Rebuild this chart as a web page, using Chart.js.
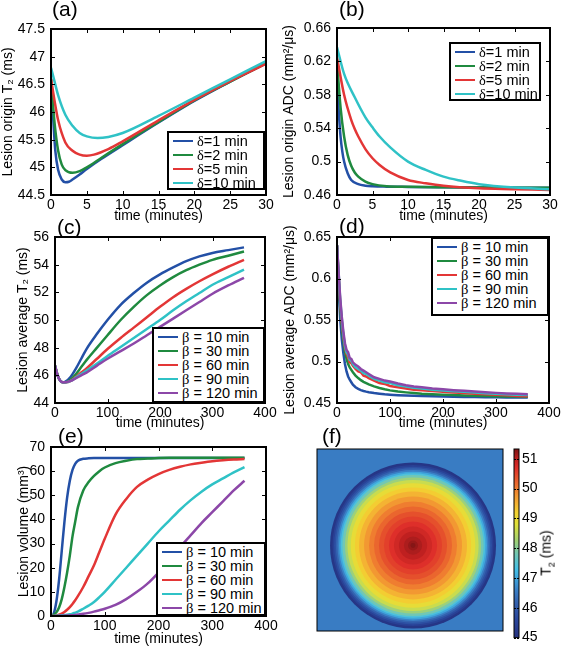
<!DOCTYPE html>
<html>
<head>
<meta charset="utf-8">
<title>Lesion T2 / ADC panels</title>
<script src="https://cdn.jsdelivr.net/npm/chart.js@4.4.1/dist/chart.umd.min.js"></script>
<style>
  body { margin: 0; background: #fff; }
  #page { position: relative; width: 564px; height: 649px; overflow: hidden; font-family: "Liberation Sans", Arial, sans-serif; color: #000; }
  #page canvas { position: absolute; left: 0; top: 0; }
  .tag { position: absolute; font-size: 21px; line-height: 21px; z-index: 3; }
  .legend { position: absolute; z-index: 3; background: #fff; border: 2px solid #000; box-sizing: border-box; font-size: 14.5px; padding: 1px 0 0 4px; }
  .legend .row { height: 14px; line-height: 14px; display: flex; align-items: center; white-space: nowrap; }
  .legend .swatch { display: inline-block; width: 20px; height: 0; border-top: 2.5px solid; margin-right: 4px; }
  .legend .txt { white-space: pre; }
  .sym { font-family: "Liberation Serif", "Times New Roman", serif; }
  .cbtitle { position: absolute; z-index: 3; font-size: 14px; transform: translate(-50%, -50%) rotate(-90deg); white-space: nowrap; }
</style>
</head>
<body>
<div id="page">
  <canvas id="chartA" width="564" height="649"></canvas>
  <canvas id="chartB" width="564" height="649"></canvas>
  <canvas id="chartC" width="564" height="649"></canvas>
  <canvas id="chartD" width="564" height="649"></canvas>
  <canvas id="chartE" width="564" height="649"></canvas>
  <canvas id="chartF" width="564" height="649"></canvas>
  <canvas id="chartCB" width="564" height="649"></canvas>
</div>
<script>
// ---- data ----

// (a) lesion origin T2 (ms) vs time (minutes), one series per delta
const deltaLabels = ['1', '2', '5', '10'];
const aTimeD1 = [0, 0.3, 0.6, 1, 1.5, 2, 2.5, 3, 4, 5, 7, 10, 15, 20, 25, 30];
const aT2D1 = [46.6, 45.9, 45.3, 44.95, 44.78, 44.73, 44.74, 44.78, 44.87, 44.97, 45.15, 45.4, 45.81, 46.2, 46.55, 46.88];
const aTimeD2 = [0, 0.5, 1, 1.5, 2, 3, 4, 5, 7, 10, 15, 20, 25, 30];
const aT2D2 = [46.6, 45.8, 45.3, 45.05, 44.95, 44.9, 44.93, 45.0, 45.17, 45.42, 45.82, 46.21, 46.55, 46.88];
const aTimeD5 = [0, 0.5, 1, 2, 3, 4, 5, 6, 8, 10, 15, 20, 25, 30];
const aT2D5 = [46.6, 46.2, 45.85, 45.45, 45.3, 45.23, 45.21, 45.23, 45.33, 45.47, 45.85, 46.22, 46.56, 46.87];
const aTimeD10 = [0, 0.5, 1, 2, 3, 4, 5, 6.5, 8, 10, 15, 20, 25, 30];
const aT2D10 = [46.8, 46.55, 46.3, 45.95, 45.75, 45.62, 45.56, 45.53, 45.55, 45.62, 45.93, 46.26, 46.59, 46.92];

// (b) lesion origin ADC (mm2/us)
const bTimeD1 = [0, 0.25, 0.5, 0.75, 1, 1.5, 2, 3, 4, 5, 7, 10, 15, 20, 30];
const bAdcD1 = [0.60, 0.56, 0.53, 0.512, 0.50, 0.486, 0.478, 0.473, 0.4712, 0.4705, 0.47, 0.4697, 0.4693, 0.469, 0.4686];
const bTimeD2 = [0, 0.5, 1, 1.5, 2, 2.5, 3, 4, 5, 7, 10, 15, 20, 30];
const bAdcD2 = [0.62, 0.565, 0.53, 0.508, 0.495, 0.487, 0.482, 0.476, 0.473, 0.4705, 0.4698, 0.4693, 0.469, 0.4686];
const bTimeD5 = [0, 1, 2, 2.5, 3, 4, 5, 6, 7.5, 10, 12.5, 15, 20, 25, 30];
const bAdcD5 = [0.625, 0.58, 0.55, 0.539, 0.53, 0.515, 0.504, 0.496, 0.487, 0.478, 0.474, 0.471, 0.468, 0.467, 0.466];
const bTimeD10 = [0, 1, 2.5, 4, 5, 6, 7.5, 10, 12.5, 15, 17.5, 20, 25, 30];
const bAdcD10 = [0.637, 0.605, 0.577, 0.553, 0.541, 0.53, 0.517, 0.50, 0.49, 0.482, 0.477, 0.473, 0.469, 0.467];

// (c) lesion average T2 (ms), one series per beta
const betaLabels = ['10', '30', '60', '90', '120'];
const cTime = [0, 5, 10, 15, 20, 30, 40, 50, 60, 80, 100, 125, 150, 175, 200, 225, 250, 275, 300, 330, 360];
const cT2B10 = [46.7, 46.0, 45.6, 45.5, 45.55, 45.9, 46.5, 47.2, 47.9, 49.0, 50.0, 51.1, 51.95, 52.7, 53.3, 53.8, 54.25, 54.6, 54.85, 55.05, 55.25];
const cT2B30 = [46.7, 46.0, 45.6, 45.5, 45.5, 45.7, 46.1, 46.6, 47.1, 48.0, 48.9, 50.0, 50.95, 51.8, 52.5, 53.1, 53.6, 54.0, 54.35, 54.65, 54.95];
const cT2B60 = [46.7, 46.0, 45.6, 45.5, 45.5, 45.6, 45.9, 46.2, 46.5, 47.2, 47.9, 48.7, 49.45, 50.2, 50.95, 51.65, 52.25, 52.8, 53.3, 53.85, 54.35];
const cT2B90 = [46.7, 46.0, 45.6, 45.5, 45.5, 45.6, 45.85, 46.1, 46.35, 46.85, 47.4, 48.05, 48.7, 49.35, 50.0, 50.7, 51.35, 51.95, 52.55, 53.1, 53.65];
const cT2B120 = [46.7, 46.0, 45.6, 45.5, 45.5, 45.6, 45.8, 46.0, 46.2, 46.7, 47.2, 47.75, 48.3, 48.9, 49.5, 50.1, 50.7, 51.3, 51.9, 52.5, 53.05];

// (d) lesion average ADC (mm2/us)
const dTime = [0, 3, 6, 9, 12, 15, 18, 21, 24, 27, 30, 35, 40, 45, 50, 55, 60, 70, 80, 90, 100, 115, 130, 145, 160, 180, 200, 220, 240, 260, 280, 300, 320, 340, 360];
const dAdcB10 = [0.640, 0.590, 0.552, 0.527, 0.510, 0.497, 0.488, 0.482, 0.478, 0.475, 0.472, 0.469, 0.467, 0.4655, 0.4645, 0.4637, 0.463, 0.462, 0.4612, 0.4605, 0.46, 0.4594, 0.459, 0.4586, 0.4583, 0.458, 0.4577, 0.4575, 0.4573, 0.4571, 0.457, 0.4568, 0.4567, 0.4566, 0.4565];
const dAdcB30 = [0.640, 0.600, 0.566, 0.542, 0.525, 0.512, 0.503, 0.497, 0.493, 0.490, 0.487, 0.483, 0.480, 0.4775, 0.4755, 0.474, 0.4725, 0.470, 0.468, 0.4665, 0.4652, 0.4638, 0.4628, 0.462, 0.4612, 0.4605, 0.46, 0.4595, 0.459, 0.4587, 0.4584, 0.4581, 0.4579, 0.4577, 0.4575];
const dAdcB60 = [0.640, 0.605, 0.572, 0.548, 0.530, 0.517, 0.509, 0.505, 0.499, 0.498, 0.495, 0.491, 0.488, 0.487, 0.483, 0.482, 0.480, 0.477, 0.474, 0.473, 0.4705, 0.469, 0.4675, 0.466, 0.4655, 0.4645, 0.4635, 0.4625, 0.462, 0.4612, 0.4605, 0.46, 0.4592, 0.4585, 0.458];
const dAdcB90 = [0.640, 0.607, 0.575, 0.552, 0.533, 0.519, 0.511, 0.508, 0.502, 0.501, 0.497, 0.493, 0.491, 0.489, 0.486, 0.485, 0.483, 0.479, 0.477, 0.475, 0.474, 0.4715, 0.4698, 0.4685, 0.4675, 0.466, 0.465, 0.4642, 0.4635, 0.4625, 0.4618, 0.461, 0.4605, 0.46, 0.4595];
const dAdcB120 = [0.640, 0.608, 0.577, 0.554, 0.536, 0.522, 0.514, 0.511, 0.504, 0.503, 0.499, 0.496, 0.494, 0.491, 0.489, 0.487, 0.485, 0.481, 0.479, 0.477, 0.476, 0.4735, 0.4715, 0.47, 0.469, 0.4675, 0.4665, 0.4655, 0.4647, 0.464, 0.463, 0.4622, 0.4615, 0.461, 0.4605];

// (e) lesion volume (mm3)
const eTime = [0, 5, 10, 15, 20, 25, 30, 35, 40, 45, 50, 60, 70, 80, 90, 100, 120, 140, 160, 180, 200, 220, 240, 260, 280, 300, 320, 340, 360];
const eVolB10 = [0, 1, 6, 15, 27, 39, 49, 56, 60.5, 63, 64.3, 65.1, 65.3, 65.4, 65.4, 65.4, 65.4, 65.4, 65.4, 65.4, 65.4, 65.4, 65.4, 65.4, 65.4, 65.4, 65.4, 65.4, 65.4];
const eVolB30 = [0, 0.5, 1.5, 3.5, 7, 12, 18, 25, 33, 39, 45, 52, 55.5, 58, 60, 61.5, 63.3, 64.3, 65, 65.2, 65.4, 65.5, 65.5, 65.5, 65.5, 65.5, 65.5, 65.5, 65.5];
const eVolB60 = [0, 0, 0.2, 0.5, 1, 1.7, 2.6, 3.7, 5, 6.5, 8.2, 12, 16.5, 21, 26.5, 32, 42, 48.5, 53.5, 56.5, 58.8, 60.5, 61.8, 62.8, 63.5, 64.1, 64.5, 64.8, 65];
const eVolB90 = [0, 0, 0.1, 0.2, 0.3, 0.4, 0.5, 0.7, 1, 1.4, 1.8, 3, 4.3, 5.8, 7.8, 10, 15, 20, 25, 30, 35, 39.5, 44, 48, 51.5, 54.5, 57, 59.5, 61.7];
const eVolB120 = [0, 0, 0, 0.1, 0.1, 0.15, 0.2, 0.25, 0.3, 0.45, 0.6, 0.9, 1.3, 1.8, 2.4, 3, 4.6, 7, 10, 13.5, 18, 23, 28.5, 33.5, 38.5, 43, 47.5, 52, 56];

// (f) radial T2 profile of the lesion map (radius normalised to lesion edge)
const ringRadius = [1.0, 0.97, 0.95, 0.93, 0.91, 0.89, 0.87, 0.85, 0.82, 0.79, 0.75, 0.70, 0.65, 0.59, 0.53, 0.47, 0.41, 0.35, 0.29, 0.23, 0.17, 0.11, 0.06, 0.03];
const ringT2 = [45.15, 45.45, 45.8, 46.2, 46.6, 47.0, 47.4, 47.8, 48.2, 48.6, 48.95, 49.25, 49.5, 49.75, 50.0, 50.2, 50.4, 50.55, 50.7, 50.85, 51.0, 51.1, 51.2, 51.3];
const tissueT2 = 46.55;

// tick labels
const minTicks30 = [0, 5, 10, 15, 20, 25, 30];
const minTicks400 = [0, 100, 200, 300, 400];
const aYTicks = [44.5, 45, 45.5, 46, 46.5, 47, 47.5];
const bYTicks = [0.46, 0.5, 0.54, 0.58, 0.62, 0.66];
const cYTicks = [44, 46, 48, 50, 52, 54, 56];
const dYTicks = [0.45, 0.5, 0.55, 0.6, 0.65];
const eYTicks = [0, 10, 20, 30, 40, 50, 60, 70];
const cbTicks = [45, 46, 47, 48, 49, 50, 51];
const cbMin = 45, cbMax = 51.33;

// ---- style ----
const W = 564, H = 649;
const lineColors = ['#2350a6', '#1f8a3f', '#e33636', '#2fc2c6', '#8c47a8'];
const tickFont = { family: '"Liberation Sans", Arial, sans-serif', size: 14 };
const titleFont = { family: '"Liberation Sans", Arial, sans-serif', size: 14 };

// jet-like colour map as printed in the figure
const cmapStops = [
    [45.0, '#25317f'], [45.6, '#2a469c'], [46.2, '#3463b0'], [46.6, '#3a80c6'],
    [47.0, '#3fa6dc'], [47.3, '#44c0e6'], [47.8, '#72c7b4'], [48.3, '#a6d26e'],
    [48.8, '#e0e23a'], [49.2, '#f3d232'], [49.6, '#f4a833'], [50.0, '#ef7d30'],
    [50.4, '#e5502c'], [50.7, '#de2f2a'], [51.0, '#bf2020'], [51.33, '#7f1515']
];

function hexToRgb(hex) {
    return [1, 3, 5].map(i => parseInt(hex.substr(i, 2), 16));
}

function colorAt(v) {
    if (v <= cmapStops[0][0]) return cmapStops[0][1];
    for (let i = 1; i < cmapStops.length; i++) {
        const [v1, c1] = cmapStops[i];
        if (v <= v1) {
            const [v0, c0] = cmapStops[i - 1];
            const f = (v - v0) / (v1 - v0);
            const a = hexToRgb(c0), b = hexToRgb(c1);
            const rgb = a.map((x, k) => Math.round(x + (b[k] - x) * f));
            return `rgb(${rgb[0]},${rgb[1]},${rgb[2]})`;
        }
    }
    return cmapStops[cmapStops.length - 1][1];
}

// Box round the plot area with small inward ticks on all four sides
const boxFrame = {
    id: 'boxFrame',
    afterDraw(chart, args, opts) {
        const { ctx, chartArea: a, scales } = chart;
        ctx.save();
        ctx.strokeStyle = '#000';
        ctx.lineWidth = opts.width || 2;
        ctx.strokeRect(a.left, a.top, a.width, a.height);
        ctx.lineWidth = 1;
        const len = opts.tickLen || 4;
        ctx.beginPath();
        if (opts.xTicks !== false) {
            scales.x.ticks.forEach(t => {
                const px = Math.round(scales.x.getPixelForValue(t.value)) + 0.5;
                ctx.moveTo(px, a.bottom); ctx.lineTo(px, a.bottom - len);
                ctx.moveTo(px, a.top); ctx.lineTo(px, a.top + len);
            });
        }
        if (opts.yTicks !== false) {
            scales.y.ticks.forEach(t => {
                const py = Math.round(scales.y.getPixelForValue(t.value)) + 0.5;
                ctx.moveTo(a.left, py); ctx.lineTo(a.left + len, py);
                ctx.moveTo(a.right, py); ctx.lineTo(a.right - len, py);
            });
        }
        ctx.stroke();
        ctx.restore();
    }
};

// Flat fill of the plot area (background tissue in the map)
const areaFill = {
    id: 'areaFill',
    beforeDatasetsDraw(chart, args, opts) {
        if (!opts.color) return;
        const { ctx, chartArea: a } = chart;
        ctx.save();
        ctx.fillStyle = opts.color;
        ctx.fillRect(a.left, a.top, a.width, a.height);
        ctx.restore();
    }
};

Chart.register(boxFrame, areaFill);

function fixedTicks(values) {
    return scale => { scale.ticks = values.map(v => ({ value: v })); };
}

// Line panel: box is the plot area in page pixels
function makeLineChart(id, box, cfg) {
    const datasets = cfg.series.map((s, i) => ({
        label: s.label,
        data: s.x.map((t, k) => ({ x: t, y: s.y[k] })),
        borderColor: lineColors[i],
        borderWidth: 2.5,
        pointRadius: 0,
        fill: false,
        tension: 0,
        cubicInterpolationMode: cfg.smooth ? 'monotone' : 'default',
        order: -i
    }));

    return new Chart(document.getElementById(id), {
        type: 'line',
        data: { datasets },
        options: {
            animation: false,
            responsive: false,
            devicePixelRatio: 1,
            events: [],
            layout: {
                padding: { left: box.l - cfg.yw, top: box.t, right: W - box.r, bottom: H - box.b - cfg.xh }
            },
            plugins: {
                legend: { display: false },
                tooltip: { enabled: false },
                boxFrame: {}
            },
            scales: {
                x: {
                    type: 'linear',
                    min: cfg.xTicks[0],
                    max: cfg.xTicks[cfg.xTicks.length - 1],
                    afterBuildTicks: fixedTicks(cfg.xTicks),
                    afterFit: s => { s.height = cfg.xh; },
                    grid: { display: false, drawTicks: false },
                    border: { display: false },
                    ticks: { color: '#000', font: tickFont, padding: 2, maxRotation: 0, autoSkip: false, callback: v => String(v) },
                    title: { display: true, text: 'time (minutes)', color: '#000', font: titleFont, padding: 0 }
                },
                y: {
                    type: 'linear',
                    min: cfg.yTicks[0],
                    max: cfg.yTicks[cfg.yTicks.length - 1],
                    afterBuildTicks: fixedTicks(cfg.yTicks),
                    afterFit: s => { s.width = cfg.yw; },
                    grid: { display: false, drawTicks: false },
                    border: { display: false },
                    ticks: { color: '#000', font: tickFont, padding: 6, autoSkip: false, callback: v => String(v) },
                    title: { display: true, text: cfg.yTitle, color: '#000', font: titleFont, padding: 0 }
                }
            }
        }
    });
}

// HTML legend box with a line sample per series
function addLegend(box, sym, labels, sep) {
    const div = document.createElement('div');
    div.className = 'legend';
    div.style.left = box.l + 'px';
    div.style.top = box.t + 'px';
    div.style.width = (box.r - box.l) + 'px';
    div.style.height = (box.b - box.t) + 'px';
    div.innerHTML = labels.map((lab, i) =>
        `<div class="row"><span class="swatch" style="border-color:${lineColors[i]}"></span>` +
        `<span class="txt"><span class="sym">${sym}</span>${sep}${lab} min</span></div>`
    ).join('');
    document.getElementById('page').appendChild(div);
}

function addTag(text, left, top) {
    const div = document.createElement('div');
    div.className = 'tag';
    div.textContent = text;
    div.style.left = left + 'px';
    div.style.top = top + 'px';
    document.getElementById('page').appendChild(div);
}

// ---- panels ----
makeLineChart('chartA', { l: 51, t: 29, r: 266, b: 195 }, {
    yw: 51, xh: 30, smooth: true, xTicks: minTicks30, yTicks: aYTicks,
    yTitle: 'Lesion origin T₂ (ms)',
    series: [
        { label: 'δ=1 min', x: aTimeD1, y: aT2D1 },
        { label: 'δ=2 min', x: aTimeD2, y: aT2D2 },
        { label: 'δ=5 min', x: aTimeD5, y: aT2D5 },
        { label: 'δ=10 min', x: aTimeD10, y: aT2D10 }
    ]
});

makeLineChart('chartB', { l: 337, t: 28, r: 550, b: 195 }, {
    yw: 56, xh: 30, smooth: true, xTicks: minTicks30, yTicks: bYTicks,
    yTitle: 'Lesion origin ADC (mm²/μs)',
    series: [
        { label: 'δ=1 min', x: bTimeD1, y: bAdcD1 },
        { label: 'δ=2 min', x: bTimeD2, y: bAdcD2 },
        { label: 'δ=5 min', x: bTimeD5, y: bAdcD5 },
        { label: 'δ=10 min', x: bTimeD10, y: bAdcD10 }
    ]
});

const betaSeries = (x, ys) => ys.map((y, i) => ({ label: 'β = ' + betaLabels[i] + ' min', x, y }));

makeLineChart('chartC', { l: 55, t: 237, r: 265, b: 403 }, {
    yw: 40, xh: 29, smooth: true, xTicks: minTicks400, yTicks: cYTicks,
    yTitle: 'Lesion average T₂ (ms)',
    series: betaSeries(cTime, [cT2B10, cT2B30, cT2B60, cT2B90, cT2B120])
});

makeLineChart('chartD', { l: 337, t: 237, r: 549, b: 403 }, {
    yw: 55, xh: 29, smooth: false, xTicks: minTicks400, yTicks: dYTicks,
    yTitle: 'Lesion average ADC (mm²/μs)',
    series: betaSeries(dTime, [dAdcB10, dAdcB30, dAdcB60, dAdcB90, dAdcB120])
});

makeLineChart('chartE', { l: 51, t: 447, r: 266, b: 616 }, {
    yw: 35, xh: 32, smooth: true, xTicks: minTicks400, yTicks: eYTicks,
    yTitle: 'Lesion volume (mm³)',
    series: betaSeries(eTime, [eVolB10, eVolB30, eVolB60, eVolB90, eVolB120])
});

// (f) T2 map: concentric rings, largest first, sized through the x scale
new Chart(document.getElementById('chartF'), {
    type: 'scatter',
    data: {
        datasets: [{
            data: ringRadius.map(() => ({ x: 0, y: 0 })),
            pointRadius: ctx => {
                const xs = ctx.chart.scales.x;
                return xs.getPixelForValue(ringRadius[ctx.dataIndex]) - xs.getPixelForValue(0);
            },
            backgroundColor: ctx => colorAt(ringT2[ctx.dataIndex]),
            borderWidth: 0
        }]
    },
    options: {
        animation: false, responsive: false, devicePixelRatio: 1, events: [],
        layout: { padding: { left: 317, top: 449, right: W - 503, bottom: H - 631 } },
        scales: {
            x: { type: 'linear', display: false, min: -1.157, max: 1.084 },
            y: { type: 'linear', display: false, min: -1.036, max: 1.17 }
        },
        plugins: {
            legend: { display: false },
            tooltip: { enabled: false },
            areaFill: { color: colorAt(tissueT2) },
            boxFrame: { width: 1, xTicks: false, yTicks: false }
        }
    }
});

// colour bar: one floating bar from cbMin to cbMax filled with the map's colours
new Chart(document.getElementById('chartCB'), {
    type: 'bar',
    data: {
        labels: ['T2'],
        datasets: [{
            data: [[cbMin, cbMax]],
            barPercentage: 1,
            categoryPercentage: 1,
            borderWidth: 0,
            backgroundColor: ctx => {
                const ys = ctx.chart.scales.y;
                if (!ys || !ctx.chart.chartArea) return '#888';
                const g = ctx.chart.ctx.createLinearGradient(0, ys.getPixelForValue(cbMin), 0, ys.getPixelForValue(cbMax));
                cmapStops.forEach(([v, c]) => g.addColorStop((v - cbMin) / (cbMax - cbMin), c));
                return g;
            }
        }]
    },
    options: {
        animation: false, responsive: false, devicePixelRatio: 1, events: [],
        layout: { padding: { left: 514, top: 449, right: W - 519 - 30, bottom: H - 641 } },
        scales: {
            x: { display: false },
            y: {
                position: 'right',
                min: cbMin, max: cbMax,
                afterBuildTicks: fixedTicks(cbTicks),
                afterFit: s => { s.width = 30; },
                grid: { display: false, drawTicks: false },
                border: { display: false },
                ticks: { color: '#000', font: tickFont, padding: 3, callback: v => String(v) }
            }
        },
        plugins: {
            legend: { display: false },
            tooltip: { enabled: false },
            boxFrame: { width: 1, xTicks: false, tickLen: 2 }
        }
    }
});

// legends, panel letters and colour bar title
addLegend({ l: 167, t: 131, r: 265, b: 190 }, 'δ', deltaLabels, '=');
addLegend({ l: 449, t: 42, r: 541, b: 101 }, 'δ', deltaLabels, '=');
addLegend({ l: 152, t: 327, r: 265, b: 403 }, 'β', betaLabels, ' = ');
addLegend({ l: 431, t: 237, r: 549, b: 316 }, 'β', betaLabels, ' = ');
addLegend({ l: 156, t: 542, r: 266, b: 616 }, 'β', betaLabels, ' = ');

addTag('(a)', 52, -2);
addTag('(b)', 339, -2);
addTag('(c)', 57, 216);
addTag('(d)', 339, 215);
addTag('(e)', 58, 425);
addTag('(f)', 322, 425);

const cbTitle = document.createElement('div');
cbTitle.className = 'cbtitle';
cbTitle.innerHTML = 'T<sub style="font-size:9px">2</sub> (ms)';
cbTitle.style.left = '547px';
cbTitle.style.top = '553px';
document.getElementById('page').appendChild(cbTitle);
</script>
</body>
</html>
